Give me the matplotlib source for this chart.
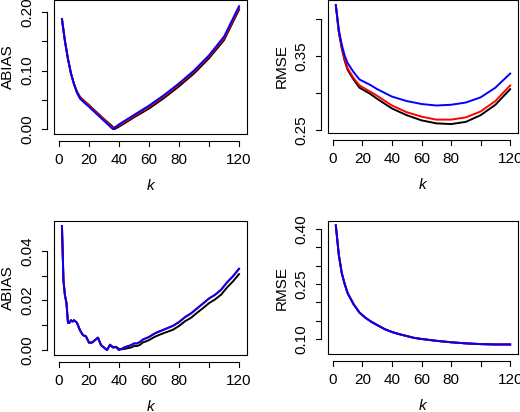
import numpy as np
import matplotlib
matplotlib.use("Agg")
import matplotlib.pyplot as plt
from matplotlib.transforms import blended_transform_factory

plt.rcParams['font.family'] = ['Liberation Sans', 'DejaVu Sans']
plt.rcParams['font.size'] = 11

# ---------------- dados ----------------

# painel superior esquerdo: ABIAS
k_a = [2, 4, 6, 8, 10, 12, 14, 16, 20, 25, 30, 35, 36, 37, 40, 45, 50, 60, 70, 80, 90, 100, 110, 120]
abias_blue = [0.188, 0.150, 0.120, 0.095, 0.077, 0.062, 0.052, 0.047, 0.038, 0.026, 0.014, 0.002, 0.000, 0.002,
              0.008, 0.016, 0.024, 0.040, 0.058, 0.078, 0.100, 0.126, 0.158, 0.210]
abias_red = [0.188, 0.150, 0.120, 0.095, 0.077, 0.063, 0.054, 0.049, 0.040, 0.028, 0.016, 0.004, 0.000, 0.003,
             0.006, 0.014, 0.022, 0.038, 0.056, 0.076, 0.098, 0.124, 0.155, 0.207]
abias_black = [0.188, 0.150, 0.120, 0.095, 0.077, 0.064, 0.055, 0.050, 0.041, 0.029, 0.017, 0.006, 0.003, 0.000,
               0.004, 0.012, 0.020, 0.035, 0.053, 0.073, 0.095, 0.121, 0.152, 0.204]

# painel superior direito: RMSE
k_r = [2, 4, 6, 8, 10, 14, 18, 25, 30, 40, 50, 60, 70, 80, 90, 100, 110, 120]
rmse_blue = [0.418, 0.385, 0.365, 0.350, 0.340, 0.328, 0.318, 0.311, 0.305, 0.295, 0.289, 0.285, 0.283, 0.284,
             0.287, 0.294, 0.307, 0.326]
rmse_red = [0.418, 0.383, 0.362, 0.345, 0.333, 0.320, 0.310, 0.302, 0.296, 0.283, 0.274, 0.268, 0.264, 0.264,
            0.267, 0.275, 0.289, 0.310]
rmse_black = [0.418, 0.382, 0.360, 0.343, 0.331, 0.318, 0.307, 0.299, 0.292, 0.279, 0.270, 0.263, 0.259, 0.258,
              0.261, 0.270, 0.284, 0.305]

# painel inferior esquerdo: ABIAS (ruidoso)
k_b = [2, 3, 4, 5, 6, 7, 8, 9, 10, 12, 14, 16, 18, 20, 22, 24, 26, 28, 30, 32, 34, 36, 38, 40, 42, 44, 46, 48,
       50, 52, 54, 56, 58, 60, 64, 68, 72, 76, 80, 84, 88, 92, 96, 100, 104, 108, 112, 116, 120]
abias2_blue = [0.050, 0.028, 0.022, 0.019, 0.011, 0.011, 0.012, 0.0115, 0.012, 0.011, 0.008, 0.006, 0.0055, 0.003,
               0.003, 0.004, 0.005, 0.002, 0.001, 0.000, 0.002, 0.001, 0.0012, 0.000, 0.0006, 0.0012, 0.0016,
               0.0020, 0.0027, 0.0027, 0.0033, 0.0043, 0.0048, 0.0053, 0.0068, 0.0078, 0.0088, 0.0098, 0.0113,
               0.0133, 0.0148, 0.0168, 0.0188, 0.0208, 0.0223, 0.0243, 0.0273, 0.0298, 0.0328]
abias2_red = [0.050, 0.028, 0.022, 0.019, 0.011, 0.011, 0.012, 0.0115, 0.012, 0.011, 0.008, 0.006, 0.0055, 0.003,
              0.003, 0.004, 0.005, 0.002, 0.001, 0.000, 0.002, 0.001, 0.0012, 0.000, 0.0005, 0.0011, 0.0015,
              0.0019, 0.0026, 0.0026, 0.0032, 0.0042, 0.0047, 0.0052, 0.0067, 0.0077, 0.0087, 0.0097, 0.0112,
              0.0132, 0.0147, 0.0167, 0.0187, 0.0207, 0.0222, 0.0242, 0.0272, 0.0297, 0.0327]
abias2_black = [0.050, 0.028, 0.022, 0.019, 0.011, 0.011, 0.012, 0.0115, 0.012, 0.011, 0.008, 0.006, 0.0055, 0.003,
                0.003, 0.004, 0.005, 0.002, 0.001, 0.000, 0.0022, 0.0012, 0.0013, 0.0005, 0.0003, 0.0005, 0.0008,
                0.0010, 0.0016, 0.0016, 0.0021, 0.0031, 0.0035, 0.0040, 0.0054, 0.0064, 0.0073, 0.0082, 0.0097,
                0.0116, 0.0130, 0.0150, 0.0169, 0.0189, 0.0204, 0.0223, 0.0252, 0.0277, 0.0306]

# painel inferior direito: RMSE
k_d = [2, 4, 6, 8, 10, 14, 18, 22, 26, 30, 35, 40, 45, 50, 55, 60, 70, 80, 90, 100, 110, 120]
rmse2 = [0.410, 0.330, 0.280, 0.250, 0.225, 0.195, 0.172, 0.158, 0.147, 0.138, 0.127, 0.119, 0.113, 0.108,
         0.103, 0.100, 0.095, 0.091, 0.088, 0.086, 0.085, 0.085]

x_ticks = [0, 20, 40, 60, 80, 100, 120]
x_labels = ["0", "20", "40", "60", "80", "", "120"]

W, H = 520, 412
fig = plt.figure(figsize=(W / 100, H / 100), dpi=100)


def painel(box, ylim, yticks, ylabels, ylab, series):
    x0, y0, x1, y1 = box  # pixels, origem no topo
    ax = fig.add_axes([x0 / W, 1 - y1 / H, (x1 - x0) / W, (y1 - y0) / H])
    for k, v, c in series:
        ax.plot(k, v, color=c, lw=1.4)
    ax.set_xlim(-3.3, 125.3)
    ax.set_ylim(*ylim)
    ax.set_xticks(x_ticks)
    ax.set_xticklabels(x_labels)
    ax.set_yticks(yticks)
    ax.set_yticklabels(ylabels, rotation=90, va='center')
    ax.tick_params(direction='out', length=0, pad=14)
    for s in ax.spines.values():
        s.set_linewidth(0.8)
    # eixos estilo R, afastados da caixa
    tx = blended_transform_factory(ax.transData, ax.transAxes)
    ty = blended_transform_factory(ax.transAxes, ax.transData)
    off_x = -7 / (y1 - y0)
    off_y = -7 / (x1 - x0)
    ax.plot([0, 120], [off_x, off_x], transform=tx, color='k', lw=0.8, clip_on=False)
    ax.plot([off_y, off_y], [yticks[0], yticks[-1]], transform=ty, color='k', lw=0.8, clip_on=False)
    for t in x_ticks:
        ax.plot([t, t], [off_x, off_x - 5 / (y1 - y0)], transform=tx, color='k', lw=0.8, clip_on=False)
    for t in yticks:
        ax.plot([off_y, off_y - 5 / (x1 - x0)], [t, t], transform=ty, color='k', lw=0.8, clip_on=False)
    ax.set_xlabel("k", style='italic', labelpad=8)
    ax.set_ylabel(ylab, labelpad=4)
    return ax


painel((54, 0, 247, 134), (-0.0085, 0.2205), [0.0, 0.05, 0.10, 0.15, 0.20],
       ["0.00", "", "0.10", "", "0.20"], "ABIAS",
       [(k_a, abias_black, 'black'), (k_a, abias_red, 'red'), (k_a, abias_blue, 'blue')])
painel((328, 0, 518, 133), (0.246, 0.425), [0.25, 0.30, 0.35, 0.40],
       ["0.25", "", "0.35", ""], "RMSE",
       [(k_r, rmse_black, 'black'), (k_r, rmse_red, 'red'), (k_r, rmse_blue, 'blue')])
painel((54, 221, 247, 355), (-0.002, 0.052), [0.0, 0.01, 0.02, 0.03, 0.04],
       ["0.00", "", "0.02", "", "0.04"], "ABIAS",
       [(k_b, abias2_black, 'black'), (k_b, abias2_red, 'red'), (k_b, abias2_blue, 'blue')])
painel((328, 221, 518, 354), (0.059, 0.422), [0.10, 0.15, 0.20, 0.25, 0.30, 0.35, 0.40],
       ["0.10", "", "", "0.25", "", "", "0.40"], "RMSE",
       [(k_d, rmse2, 'black'), (k_d, rmse2, 'red'), (k_d, rmse2, 'blue')])

fig.savefig("out.png", dpi=100)
